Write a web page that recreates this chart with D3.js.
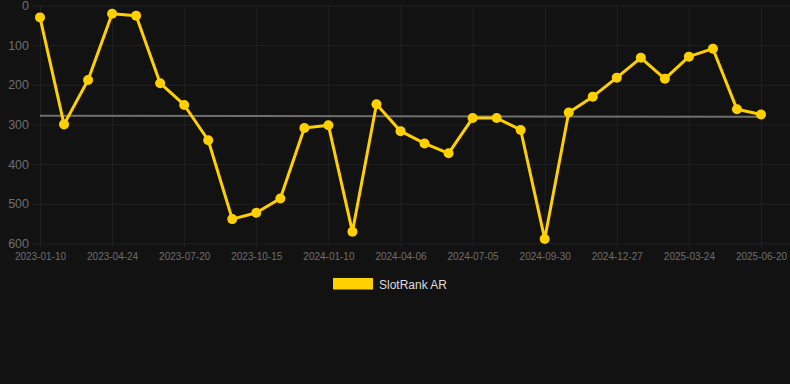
<!DOCTYPE html>
<html>
<head>
<meta charset="utf-8">
<script src="https://cdn.jsdelivr.net/npm/d3@7"></script>
<style>
  html, body { margin: 0; padding: 0; background: #121212; }
  svg { display: block; font-family: "Liberation Sans", Arial, sans-serif; }
</style>
</head>
<body>
<svg id="plot" width="790" height="384"></svg>
<script>
// categories (only every third one is labelled on the axis)
const dates = [
  "2023-01-10", "2023-02-13", "2023-03-20", "2023-04-24", "2023-05-23", "2023-06-21",
  "2023-07-20", "2023-08-18", "2023-09-16", "2023-10-15", "2023-11-13", "2023-12-12",
  "2024-01-10", "2024-02-08", "2024-03-08", "2024-04-06", "2024-05-06", "2024-06-05",
  "2024-07-05", "2024-08-03", "2024-09-01", "2024-09-30", "2024-10-29", "2024-11-28",
  "2024-12-27", "2025-01-25", "2025-02-23", "2025-03-24", "2025-04-22", "2025-05-21",
  "2025-06-20"
];

// SlotRank AR values
const rank = [
  30, 300, 188, 21, 26, 196, 251, 340, 539, 523, 487, 309,
  302, 571, 249, 317, 348, 373, 284, 284, 314, 589, 270, 230,
  182, 132, 185, 129, 109, 262, 275
];

// grey trend line: value at first and last date
const trend = [278, 281];

const yTicks = [0, 100, 200, 300, 400, 500, 600];

function render() {
  const svg = d3.select("#plot");
  const width = +svg.attr("width");

  const left = 40, right = 761, top = 5.5, bottom = 243.3;

  const x = d3.scalePoint()
    .domain(dates)
    .range([left, right]);

  const y = d3.scaleLinear()
    .domain([0, 600])
    .range([top, bottom]);

  // horizontal grid + y labels
  const yAxis = svg.append("g")
    .attr("transform", `translate(${left},0)`)
    .call(d3.axisLeft(y).tickValues(yTicks).tickSize(8).tickPadding(3));
  yAxis.select(".domain").remove();
  yAxis.selectAll(".tick line")
    .attr("x1", -8).attr("x2", width - left)
    .attr("stroke", "#202020");
  yAxis.selectAll(".tick text")
    .attr("fill", "#6e6e6e")
    .style("font-size", "12.5px");

  // vertical grid + x labels
  const xAxis = svg.append("g")
    .attr("transform", `translate(0,${bottom})`)
    .call(d3.axisBottom(x).tickValues(dates.filter((d, i) => i % 3 === 0)).tickSize(0).tickPadding(10));
  xAxis.select(".domain").remove();
  xAxis.selectAll(".tick line")
    .attr("y1", 4).attr("y2", top - bottom)
    .attr("stroke", "#202020");
  xAxis.selectAll(".tick text")
    .attr("fill", "#6e6e6e")
    .style("font-size", "10px");

  // trend line
  svg.append("line")
    .attr("x1", x(dates[0])).attr("y1", y(trend[0]))
    .attr("x2", x(dates[dates.length - 1])).attr("y2", y(trend[1]))
    .attr("stroke", "#6f6f6f")
    .attr("stroke-width", 2);

  const line = d3.line()
    .x((d, i) => x(dates[i]))
    .y(d => y(d));

  svg.append("path")
    .datum(rank)
    .attr("d", line)
    .attr("fill", "none")
    .attr("stroke", "#ffd000")
    .attr("stroke-width", 3)
    .attr("stroke-linejoin", "round");

  svg.selectAll("circle.pt")
    .data(rank)
    .enter()
    .append("circle")
    .attr("class", "pt")
    .attr("cx", (d, i) => x(dates[i]))
    .attr("cy", d => y(d))
    .attr("r", 5)
    .attr("fill", "#ffd000");

  // legend
  const lg = svg.append("g").attr("transform", "translate(333,278)");
  lg.append("rect")
    .attr("width", 40).attr("height", 11.5)
    .attr("fill", "#ffd000");
  lg.append("text")
    .attr("x", 46).attr("y", 10.5)
    .attr("fill", "#dddddd")
    .style("font-size", "12px")
    .text("SlotRank AR");
}

render();
</script>
</body>
</html>
